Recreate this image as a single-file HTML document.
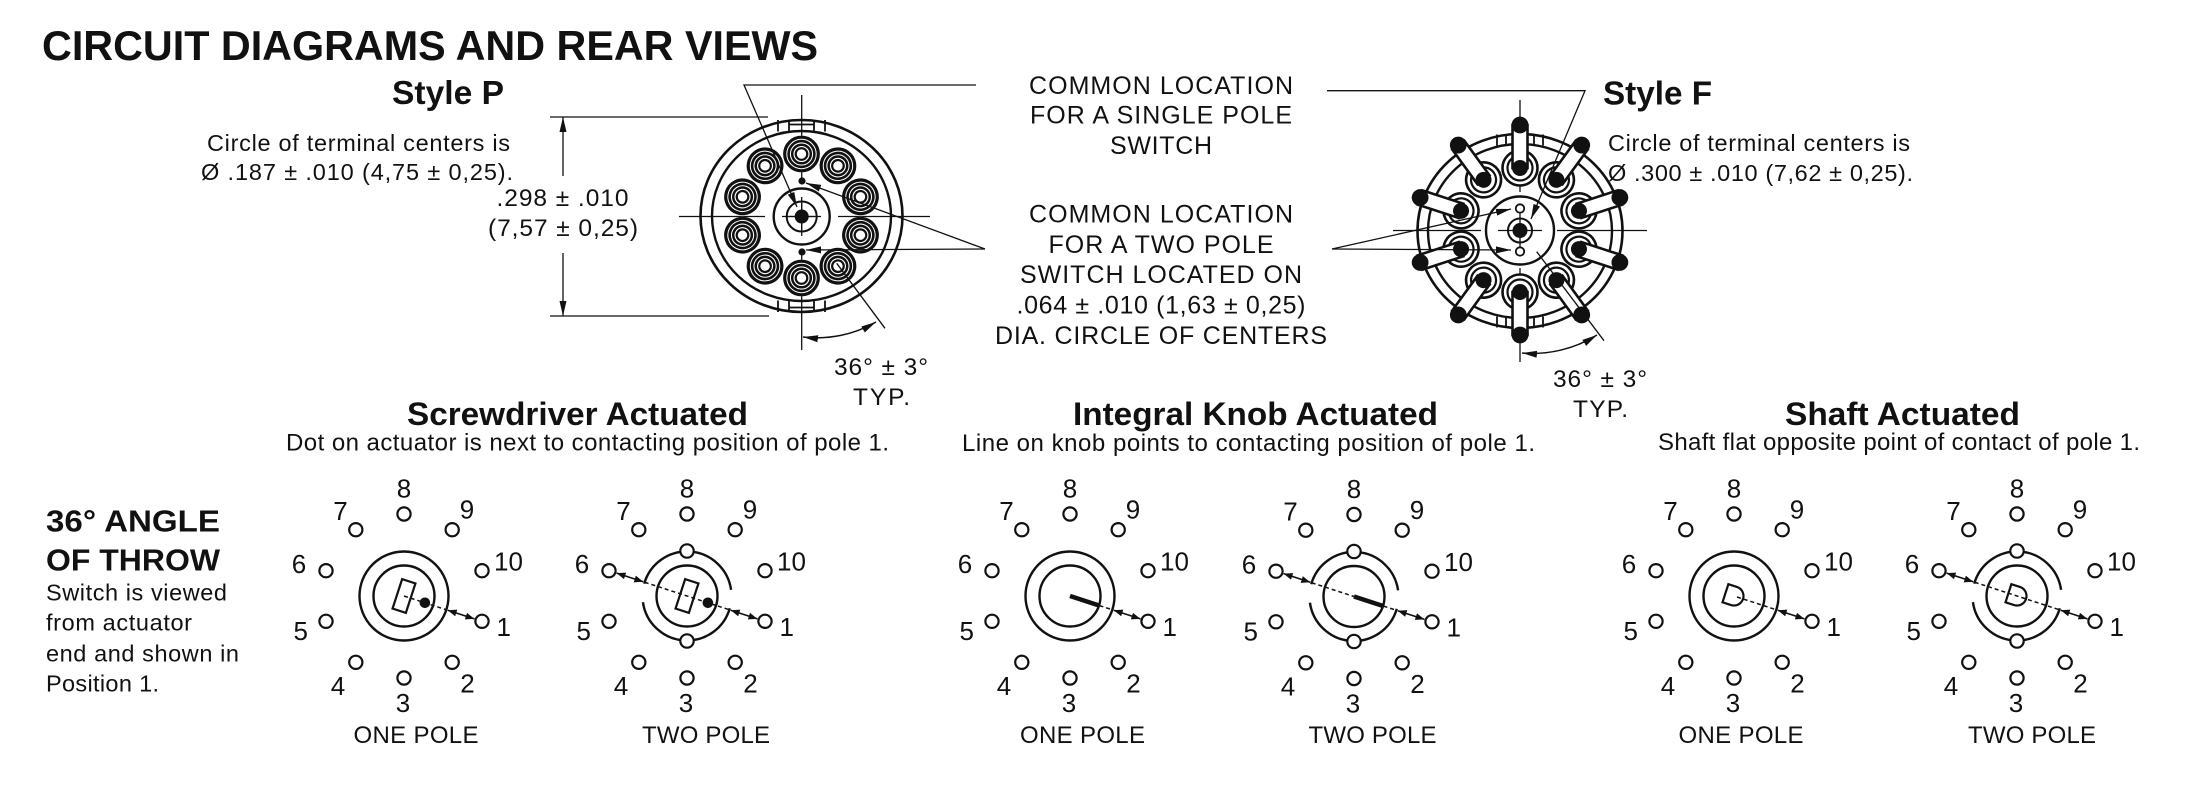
<!DOCTYPE html>
<html><head><meta charset="utf-8"><style>
body{margin:0;background:#fff}
svg{display:block}
text{font-family:"Liberation Sans",Arial,sans-serif;fill:#111}
</style></head><body>
<svg width="2185" height="787" viewBox="0 0 2185 787" xmlns="http://www.w3.org/2000/svg" xmlns:xlink="http://www.w3.org/1999/xlink">
<defs>
<marker id="a1" viewBox="0 0 15 8" refX="15" refY="4" markerWidth="15" markerHeight="8" markerUnits="userSpaceOnUse" orient="auto-start-reverse"><path d="M0,0.5 L15,4 L0,7.5 Z" fill="#111"/></marker>
<marker id="a2" viewBox="0 0 9 7" refX="9" refY="3.5" markerWidth="9" markerHeight="7" markerUnits="userSpaceOnUse" orient="auto-start-reverse"><path d="M0,0 L9,3.5 L0,7 Z" fill="#111"/></marker>

<g id="terms" fill="#fff" stroke="#111" stroke-width="2.2">
<circle cx="0" cy="-82" r="6.6"/><circle cx="48.2" cy="-66.3" r="6.6"/><circle cx="78" cy="-25.3" r="6.6"/><circle cx="78" cy="25.3" r="6.6"/><circle cx="48.2" cy="66.3" r="6.6"/><circle cx="0" cy="82" r="6.6"/><circle cx="-48.2" cy="66.3" r="6.6"/><circle cx="-78" cy="25.3" r="6.6"/><circle cx="-78" cy="-25.3" r="6.6"/><circle cx="-48.2" cy="-66.3" r="6.6"/>
</g>
<g id="ring1" fill="none" stroke="#111" stroke-width="2.4"><circle r="44.5"/><circle r="30.5"/></g>
<g id="ring2" stroke="#111" stroke-width="2.4">
<path d="M-42.78,-12.27 A44.5,44.5 0 0 1 44.07,-6.19 M42.78,12.27 A44.5,44.5 0 0 1 -44.07,6.19" fill="none"/>
<circle r="30.5" fill="none"/>
<circle cy="-45" r="6.7" fill="#fff" stroke-width="2.2"/><circle cy="45" r="6.7" fill="#fff" stroke-width="2.2"/>
</g>
<line id="arrR" x1="43.75" y1="14.21" x2="70.4" y2="22.9" stroke="#111" stroke-width="1.6" marker-start="url(#a2)" marker-end="url(#a2)"/>
<line id="arrL" x1="-43.75" y1="-14.21" x2="-70.4" y2="-22.9" stroke="#111" stroke-width="1.6" marker-start="url(#a2)" marker-end="url(#a2)"/>
<g id="sd"><rect x="-7" y="-15.5" width="14" height="31" transform="rotate(18)" fill="#fff" stroke="#111" stroke-width="2.2"/></g>
<path id="dd" d="M-9,-9.5 L0,-9.5 A9.5,9.5 0 0 1 0,9.5 L-9,9.5 Z" transform="rotate(18)" fill="#fff" stroke="#111" stroke-width="2.2"/>

<g id="pt">
<circle cx="801.5" cy="154" r="18.4" fill="#fff"/>
<g fill="none" stroke="#111"><circle cx="801.5" cy="154" r="16.8" stroke-width="3.2"/><circle cx="801.5" cy="154" r="12.9" stroke-width="2.6"/><circle cx="801.5" cy="154" r="9.3" stroke-width="2.5"/><circle cx="801.5" cy="154" r="5.8" stroke-width="2.2"/></g>
</g>
<g id="fp">
<circle cx="1520" cy="168" r="17.5" fill="#fff" stroke="#111" stroke-width="2.6"/>
<circle cx="1520" cy="168" r="12.5" fill="none" stroke="#111" stroke-width="2.2"/>
<rect x="1512.5" y="125" width="15" height="43" fill="#fff" stroke="#111" stroke-width="2.6"/>
<circle cx="1520" cy="168" r="8" fill="#111"/>
<circle cx="1520" cy="125" r="8.4" fill="#111"/>
</g>
</defs>

<!-- Title -->
<text x="42" y="60" font-size="42" font-weight="bold" textLength="776" lengthAdjust="spacingAndGlyphs">CIRCUIT DIAGRAMS AND REAR VIEWS</text>

<!-- Style P texts -->
<text x="392" y="104" font-size="33" font-weight="bold" textLength="112" lengthAdjust="spacingAndGlyphs">Style P</text>
<text x="207" y="151" font-size="23.5" textLength="303" lengthAdjust="spacing">Circle of terminal centers is</text>
<text x="201" y="180" font-size="23.5" textLength="312" lengthAdjust="spacing">Ø .187 ± .010 (4,75 ± 0,25).</text>
<text x="496.5" y="206" font-size="24.5" textLength="132" lengthAdjust="spacing">.298 ± .010</text>
<text x="488" y="236" font-size="24.5" textLength="150" lengthAdjust="spacing">(7,57 ± 0,25)</text>
<text x="834" y="375" font-size="24.5" textLength="94" lengthAdjust="spacing">36° ± 3°</text>
<text x="853" y="405" font-size="24.5" textLength="57" lengthAdjust="spacing">TYP.</text>

<!-- Style F texts -->
<text x="1603" y="104.5" font-size="33" font-weight="bold" textLength="109" lengthAdjust="spacingAndGlyphs">Style F</text>
<text x="1608" y="151" font-size="23.5" textLength="302" lengthAdjust="spacing">Circle of terminal centers is</text>
<text x="1608" y="181" font-size="23.5" textLength="305" lengthAdjust="spacing">Ø .300 ± .010 (7,62 ± 0,25).</text>
<text x="1553" y="387" font-size="24.5" textLength="94" lengthAdjust="spacing">36° ± 3°</text>
<text x="1573" y="417" font-size="24.5" textLength="55" lengthAdjust="spacing">TYP.</text>

<!-- Middle texts -->
<g font-size="25" text-anchor="middle">
<text x="1161" y="94" textLength="264" lengthAdjust="spacing">COMMON LOCATION</text>
<text x="1161" y="123.5" textLength="262" lengthAdjust="spacing">FOR A SINGLE POLE</text>
<text x="1161" y="154" textLength="102" lengthAdjust="spacing">SWITCH</text>
<text x="1161" y="222.5" textLength="264" lengthAdjust="spacing">COMMON LOCATION</text>
<text x="1161" y="253" textLength="225" lengthAdjust="spacing">FOR A TWO POLE</text>
<text x="1161" y="283" textLength="282" lengthAdjust="spacing">SWITCH LOCATED ON</text>
<text x="1161" y="313.5" textLength="289" lengthAdjust="spacing">.064 ± .010 (1,63 ± 0,25)</text>
<text x="1161" y="344" textLength="332" lengthAdjust="spacing">DIA. CIRCLE OF CENTERS</text>
</g>

<!-- Style P drawing -->
<g stroke="#111" fill="none">
<line x1="550" y1="117" x2="768" y2="117" stroke-width="1.3"/>
<line x1="550" y1="316" x2="769" y2="316" stroke-width="1.3"/>
<line x1="563" y1="176" x2="563" y2="117" stroke-width="1.3" marker-end="url(#a1)"/>
<line x1="563" y1="253" x2="563" y2="316" stroke-width="1.3" marker-end="url(#a1)"/>
<ellipse cx="801.5" cy="216" rx="101" ry="96" stroke-width="2.6"/>
<ellipse cx="801.5" cy="216" rx="89.5" ry="85" stroke-width="2.4"/>
<g stroke-width="1.8">
<line x1="778" y1="120" x2="778" y2="131.5"/><line x1="789" y1="120" x2="789" y2="131"/><line x1="814" y1="120" x2="814" y2="131"/><line x1="825" y1="120" x2="825" y2="131.5"/><line x1="789" y1="124.5" x2="814" y2="124.5"/>
<line x1="778" y1="300.5" x2="778" y2="312"/><line x1="789" y1="301" x2="789" y2="312"/><line x1="814" y1="301" x2="814" y2="312"/><line x1="825" y1="300.5" x2="825" y2="312"/><line x1="789" y1="307.5" x2="814" y2="307.5"/>
</g>
<g stroke-width="1.3">
<line x1="679" y1="216.5" x2="765" y2="216.5"/><line x1="782" y1="216.5" x2="821" y2="216.5"/><line x1="838" y1="216.5" x2="930" y2="216.5"/>
<line x1="801.7" y1="95" x2="801.7" y2="182"/><line x1="801.7" y1="197" x2="801.7" y2="236"/><line x1="801.7" y1="252" x2="801.7" y2="350"/>
</g>
</g>
<use href="#pt"/>
<use href="#pt" transform="rotate(36 801.5 216)"/>
<use href="#pt" transform="rotate(72 801.5 216)"/>
<use href="#pt" transform="rotate(108 801.5 216)"/>
<use href="#pt" transform="rotate(144 801.5 216)"/>
<use href="#pt" transform="rotate(180 801.5 216)"/>
<use href="#pt" transform="rotate(216 801.5 216)"/>
<use href="#pt" transform="rotate(252 801.5 216)"/>
<use href="#pt" transform="rotate(288 801.5 216)"/>
<use href="#pt" transform="rotate(324 801.5 216)"/>
<g stroke="#111" fill="none">
<circle cx="801.7" cy="216.5" r="28" stroke-width="2.4"/>
<circle cx="801.7" cy="216.5" r="15" stroke-width="2"/>
<line x1="788" y1="216.5" x2="815" y2="216.5" stroke-width="1.3"/>
<line x1="801.7" y1="203" x2="801.7" y2="230" stroke-width="1.3"/>
<line x1="836.7" y1="263.3" x2="885" y2="328.3" stroke-width="1.3"/>
<path d="M803,337 A118,118 0 0 0 876,322" stroke-width="1.5" marker-start="url(#a1)" marker-end="url(#a1)"/>
<polyline points="976,85 744,85 797,207" stroke-width="1.3" marker-end="url(#a1)"/>
<line x1="985" y1="249" x2="806" y2="183" stroke-width="1.3" marker-end="url(#a1)"/>
<line x1="985" y1="249" x2="806" y2="250" stroke-width="1.3" marker-end="url(#a1)"/>
</g>
<circle cx="801.7" cy="216.5" r="7" fill="#111"/>
<circle cx="802" cy="181" r="3.6" fill="#111"/>
<circle cx="802" cy="252" r="3.6" fill="#111"/>

<!-- Style F drawing -->
<g stroke="#111" fill="none">
<ellipse cx="1520" cy="231" rx="102.5" ry="97" stroke-width="2.6"/>
<ellipse cx="1520" cy="231" rx="92" ry="87" stroke-width="2.4"/>
<g stroke-width="1.8">
<line x1="1497" y1="134.5" x2="1497" y2="145.5"/><line x1="1506" y1="134" x2="1506" y2="145"/><line x1="1534" y1="134" x2="1534" y2="145"/><line x1="1543" y1="134.5" x2="1543" y2="145.5"/>
<line x1="1497" y1="316.5" x2="1497" y2="327.5"/><line x1="1506" y1="317" x2="1506" y2="328"/><line x1="1534" y1="317" x2="1534" y2="328"/><line x1="1543" y1="316.5" x2="1543" y2="327.5"/>
</g>
<g stroke-width="1.3">
<line x1="1393" y1="230.5" x2="1481" y2="230.5"/><line x1="1498" y1="230.5" x2="1542" y2="230.5"/><line x1="1557" y1="230.5" x2="1647" y2="230.5"/>
<line x1="1520" y1="100" x2="1520" y2="192"/><line x1="1520" y1="213" x2="1520" y2="247"/><line x1="1520" y1="268" x2="1520" y2="362"/>
</g>
</g>
<use href="#fp"/>
<use href="#fp" transform="rotate(36 1520 230)"/>
<use href="#fp" transform="rotate(72 1520 230)"/>
<use href="#fp" transform="rotate(108 1520 230)"/>
<use href="#fp" transform="rotate(144 1520 230)"/>
<use href="#fp" transform="rotate(180 1520 230)"/>
<use href="#fp" transform="rotate(216 1520 230)"/>
<use href="#fp" transform="rotate(252 1520 230)"/>
<use href="#fp" transform="rotate(288 1520 230)"/>
<use href="#fp" transform="rotate(324 1520 230)"/>
<g stroke="#111" fill="none">
<circle cx="1520" cy="230.5" r="34" stroke-width="2.4"/>
<circle cx="1520" cy="230.5" r="12" stroke-width="2"/>
<circle cx="1520" cy="208.5" r="4.2" stroke-width="1.8" fill="#fff"/>
<circle cx="1520" cy="251.5" r="4.2" stroke-width="1.8" fill="#fff"/>
<line x1="1536.7" y1="251.7" x2="1604" y2="340.7" stroke-width="1.3"/>
<path d="M1522,353 A122,122 0 0 0 1597,335" stroke-width="1.5" marker-start="url(#a1)" marker-end="url(#a1)"/>
<polyline points="1327,90.7 1585,90.7 1531,219" stroke-width="1.3" marker-end="url(#a1)"/>
<line x1="1332" y1="249" x2="1511" y2="209" stroke-width="1.3" marker-end="url(#a1)"/>
<line x1="1332" y1="249" x2="1511" y2="250" stroke-width="1.3" marker-end="url(#a1)"/>
</g>
<circle cx="1520" cy="230.5" r="7.5" fill="#111"/>

<!-- Headings -->
<text x="407" y="425" font-size="32.5" font-weight="bold" textLength="341" lengthAdjust="spacingAndGlyphs">Screwdriver Actuated</text>
<text x="286" y="450.5" font-size="24" textLength="603" lengthAdjust="spacing">Dot on actuator is next to contacting position of pole 1.</text>
<text x="1073" y="425" font-size="32.5" font-weight="bold" textLength="365" lengthAdjust="spacingAndGlyphs">Integral Knob Actuated</text>
<text x="962" y="451" font-size="24" textLength="573" lengthAdjust="spacing">Line on knob points to contacting position of pole 1.</text>
<text x="1785" y="425" font-size="32.5" font-weight="bold" textLength="235" lengthAdjust="spacingAndGlyphs">Shaft Actuated</text>
<text x="1658" y="450" font-size="24" textLength="482" lengthAdjust="spacing">Shaft flat opposite point of contact of pole 1.</text>

<!-- Left text -->
<text x="46" y="531.5" font-size="31" font-weight="bold" textLength="174" lengthAdjust="spacingAndGlyphs">36° ANGLE</text>
<text x="46" y="570.5" font-size="31" font-weight="bold" textLength="174" lengthAdjust="spacingAndGlyphs">OF THROW</text>
<text x="46" y="600.5" font-size="23.5" textLength="181" lengthAdjust="spacing">Switch is viewed</text>
<text x="46" y="630.5" font-size="23.5" textLength="146" lengthAdjust="spacing">from actuator</text>
<text x="46" y="661.5" font-size="23.5" textLength="193" lengthAdjust="spacing">end and shown in</text>
<text x="46" y="691.5" font-size="23.5" textLength="113" lengthAdjust="spacing">Position 1.</text>

<!-- Switch S1 -->
<g transform="translate(404,596)">
<use href="#ring1"/><use href="#terms"/>
<use href="#sd"/>
<line x1="0" y1="0" x2="42.3" y2="13.75" stroke="#111" stroke-width="1.5" stroke-dasharray="4 3"/>
<circle cx="20.9" cy="6.8" r="5.3" fill="#111"/>
<use href="#arrR"/>
<g font-size="26" text-anchor="middle">
<text x="0" y="-98.7">8</text><text x="63" y="-77.7">9</text><text x="104.5" y="-25.7">10</text><text x="99.7" y="39.8">1</text><text x="63.5" y="96.3">2</text><text x="-1" y="115.8">3</text><text x="-66" y="98.8">4</text><text x="-103.3" y="43.8">5</text><text x="-105" y="-23.2">6</text><text x="-63.5" y="-76.2">7</text>
</g>
</g>
<text x="416" y="743" font-size="24" text-anchor="middle" textLength="125" lengthAdjust="spacing">ONE POLE</text>

<!-- Switch S2 -->
<g transform="translate(687,596)">
<use href="#ring2"/><use href="#terms"/>
<use href="#sd"/>
<line x1="-42.3" y1="-13.75" x2="42.3" y2="13.75" stroke="#111" stroke-width="1.5" stroke-dasharray="4 3"/>
<circle cx="20.9" cy="6.8" r="5.3" fill="#111"/>
<use href="#arrR"/><use href="#arrL"/>
<g font-size="26" text-anchor="middle">
<text x="0" y="-98.7">8</text><text x="63" y="-77.7">9</text><text x="104.5" y="-25.7">10</text><text x="99.7" y="39.8">1</text><text x="63.5" y="96.3">2</text><text x="-1" y="115.8">3</text><text x="-66" y="98.8">4</text><text x="-103.3" y="43.8">5</text><text x="-105" y="-23.2">6</text><text x="-63.5" y="-76.2">7</text>
</g>
</g>
<text x="706" y="743" font-size="24" text-anchor="middle" textLength="128" lengthAdjust="spacing">TWO POLE</text>

<!-- Switch K1 -->
<g transform="translate(1070,596)">
<use href="#ring1"/><use href="#terms"/>
<line x1="0" y1="0" x2="29.5" y2="9.6" stroke="#111" stroke-width="4.5"/>
<line x1="29.5" y1="9.6" x2="42.3" y2="13.75" stroke="#111" stroke-width="1.5" stroke-dasharray="4 3"/>
<use href="#arrR"/>
<g font-size="26" text-anchor="middle">
<text x="0" y="-98.7">8</text><text x="63" y="-77.7">9</text><text x="104.5" y="-25.7">10</text><text x="99.7" y="39.8">1</text><text x="63.5" y="96.3">2</text><text x="-1" y="115.8">3</text><text x="-66" y="98.8">4</text><text x="-103.3" y="43.8">5</text><text x="-105" y="-23.2">6</text><text x="-63.5" y="-76.2">7</text>
</g>
</g>
<text x="1082.5" y="743" font-size="24" text-anchor="middle" textLength="125" lengthAdjust="spacing">ONE POLE</text>

<!-- Switch K2 -->
<g transform="translate(1354,596.5)">
<use href="#ring2"/><use href="#terms"/>
<line x1="-42.3" y1="-13.75" x2="0" y2="0" stroke="#111" stroke-width="1.5" stroke-dasharray="4 3"/>
<line x1="0" y1="0" x2="29.5" y2="9.6" stroke="#111" stroke-width="4.5"/>
<line x1="29.5" y1="9.6" x2="42.3" y2="13.75" stroke="#111" stroke-width="1.5" stroke-dasharray="4 3"/>
<use href="#arrR"/><use href="#arrL"/>
<g font-size="26" text-anchor="middle">
<text x="0" y="-98.7">8</text><text x="63" y="-77.7">9</text><text x="104.5" y="-25.7">10</text><text x="99.7" y="39.8">1</text><text x="63.5" y="96.3">2</text><text x="-1" y="115.8">3</text><text x="-66" y="98.8">4</text><text x="-103.3" y="43.8">5</text><text x="-105" y="-23.2">6</text><text x="-63.5" y="-76.2">7</text>
</g>
</g>
<text x="1372.5" y="743" font-size="24" text-anchor="middle" textLength="128" lengthAdjust="spacing">TWO POLE</text>

<!-- Switch SH1 -->
<g transform="translate(1734,596)">
<use href="#ring1"/><use href="#terms"/>
<use href="#dd"/>
<line x1="3" y1="1" x2="42.3" y2="13.75" stroke="#111" stroke-width="1.5" stroke-dasharray="4 3"/>
<use href="#arrR"/>
<g font-size="26" text-anchor="middle">
<text x="0" y="-98.7">8</text><text x="63" y="-77.7">9</text><text x="104.5" y="-25.7">10</text><text x="99.7" y="39.8">1</text><text x="63.5" y="96.3">2</text><text x="-1" y="115.8">3</text><text x="-66" y="98.8">4</text><text x="-103.3" y="43.8">5</text><text x="-105" y="-23.2">6</text><text x="-63.5" y="-76.2">7</text>
</g>
</g>
<text x="1741" y="743" font-size="24" text-anchor="middle" textLength="125" lengthAdjust="spacing">ONE POLE</text>

<!-- Switch SH2 -->
<g transform="translate(2017,596)">
<use href="#ring2"/><use href="#terms"/>
<use href="#dd"/>
<line x1="-42.3" y1="-13.75" x2="42.3" y2="13.75" stroke="#111" stroke-width="1.5" stroke-dasharray="4 3"/>
<use href="#arrR"/><use href="#arrL"/>
<g font-size="26" text-anchor="middle">
<text x="0" y="-98.7">8</text><text x="63" y="-77.7">9</text><text x="104.5" y="-25.7">10</text><text x="99.7" y="39.8">1</text><text x="63.5" y="96.3">2</text><text x="-1" y="115.8">3</text><text x="-66" y="98.8">4</text><text x="-103.3" y="43.8">5</text><text x="-105" y="-23.2">6</text><text x="-63.5" y="-76.2">7</text>
</g>
</g>
<text x="2032" y="743" font-size="24" text-anchor="middle" textLength="128" lengthAdjust="spacing">TWO POLE</text>

</svg>
</body></html>
